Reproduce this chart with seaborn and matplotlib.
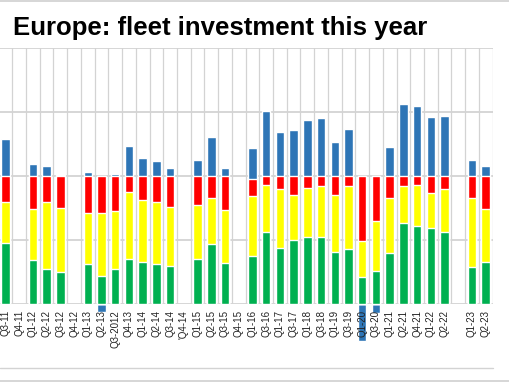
import numpy as np
import pandas as pd
import matplotlib.pyplot as plt
import seaborn as sns
from matplotlib.lines import Line2D

nan = np.nan

# quarters (blank slots = no survey that quarter)
quarters = ['Q3-11', 'Q4-11', 'Q1-12', 'Q2-12', 'Q3-12', 'Q4-12', 'Q1-13', 'Q2-13',
            'Q3-2012', 'Q4-13', 'Q1-14', 'Q2-14', 'Q3-14', "'Q4-14", 'Q1-15', 'Q2-15',
            'Q3-15', 'Q4-15', 'Q1-16', 'Q3-16', 'Q1-17', 'Q3-17', 'Q1-18', 'Q3-18',
            'Q1-19', 'Q3-19', 'Q1-20', 'Q3-20', 'Q1-21', 'Q2-21', 'Q4-21', 'Q1-22',
            'Q2-22', '', 'Q1-23', 'Q2-23']

green = [48, nan, 34, 27, 25, nan, 31, 22, 27, 35, 33, 31.5, 30, nan, 35, 47, 32, nan,
         37.5, 56, 44, 50, 52, 52, 41, 43, 21, 26, 40, 63, 61, 59, 56, nan, 29, 33]
yellow = [32, nan, 40, 53, 50, nan, 40, 49, 46, 52.5, 48, 48, 46, nan, 42.5, 36, 41.5, nan,
          46.5, 37, 46, 35, 39, 40.5, 44, 49.5, 28, 39, 43, 29, 32, 27.5, 33.5, nan, 54, 41]
red = [20, nan, 26, 20, 25, nan, 29, 29, 27, 12.5, 19, 20.5, 24, nan, 22.5, 17, 26.5, nan,
       14, 7, 10, 15, 9, 7.5, 15, 7.5, 51, 35, 17, 8, 7, 13.5, 10.5, nan, 17, 26]
blue = [29, nan, 9, 8, 1, nan, 3, -6.5, 1.3, 23.7, 14.3, 12, 6, nan, 12.5, 30.7, 6, nan,
        24, 50.5, 34.4, 36, 44, 45.6, 26.6, 36.5, -28.7, -7.3, 23, 56, 54.7, 46, 47, nan, 12.5, 7.6]

df = pd.DataFrame({'quarter': quarters, 'green': green, 'yellow': yellow,
                   'red': red, 'blue': blue})
df['gy'] = df['green'] + df['yellow']
df['gyr'] = df['gy'] + df['red']
# blue sits on top of the stack when positive, hangs below zero when negative
df['top'] = np.where(df['blue'] > 0, df['gyr'] + df['blue'], df['blue'])

sns.set_style('white')
plt.rcParams['font.family'] = ['Liberation Sans', 'DejaVu Sans']

fig = plt.figure(figsize=(5.1, 3.82), dpi=100)
ax = fig.add_axes([-1.42 / 510, 78 / 382, 494 / 510, 256 / 382])

layers = [('top', '#2E75B6'), ('gyr', '#FF0000'), ('gy', '#FFFF00'), ('green', '#00B050')]
for col, c in layers:
    sns.barplot(data=df, x='quarter', y=col, order=quarters, color=c, width=0.62,
                errorbar=None, saturation=1, ax=ax)

for p in ax.patches:
    p.set_clip_on(False)

ax.set_xlim(-0.5, len(quarters) - 0.5)
ax.set_ylim(0, 200)
ax.set_yticks([0, 50, 100, 150, 200])
ax.set_yticklabels([])
ax.set_xlabel('')
ax.set_ylabel('')
sns.despine(ax=ax, left=True, bottom=True, top=True, right=True)

gc = '#d3d3d3'
ax.grid(axis='y', color=gc, linewidth=1.3)
ax.set_xticks(np.arange(-0.5, len(quarters), 1), minor=True)
ax.grid(axis='x', which='minor', color=gc, linewidth=0.9)
ax.tick_params(axis='x', which='minor', length=46, width=0.9, color=gc, direction='out')
ax.tick_params(axis='x', which='major', length=0, pad=4.5, labelsize=7, labelcolor='#222222')
ax.tick_params(axis='y', length=0)
plt.setp(ax.get_xticklabels(), rotation=90, va='top', ha='center')

# gridlines behind the bars, labels in front of the bars hanging below zero
ax.yaxis.set_zorder(0.5)
ax.xaxis.set_zorder(3)

# table line under the labels and slide frame
fig.add_artist(Line2D([0, 493 / 510], [1 - 368 / 382] * 2, color=gc, linewidth=1.0))
fig.add_artist(Line2D([0, 1], [1 - 381 / 382] * 2, color='#cfcfcf', linewidth=1.2))
fig.add_artist(Line2D([0, 1], [1 - 1 / 382] * 2, color='#cfcfcf', linewidth=1.2))

fig.text(13 / 510, 1 - 35 / 382, 'Europe: fleet investment this year', fontsize=18.5,
         fontweight='bold', color='black', va='baseline', ha='left')

fig.savefig('out.png', dpi=100)
